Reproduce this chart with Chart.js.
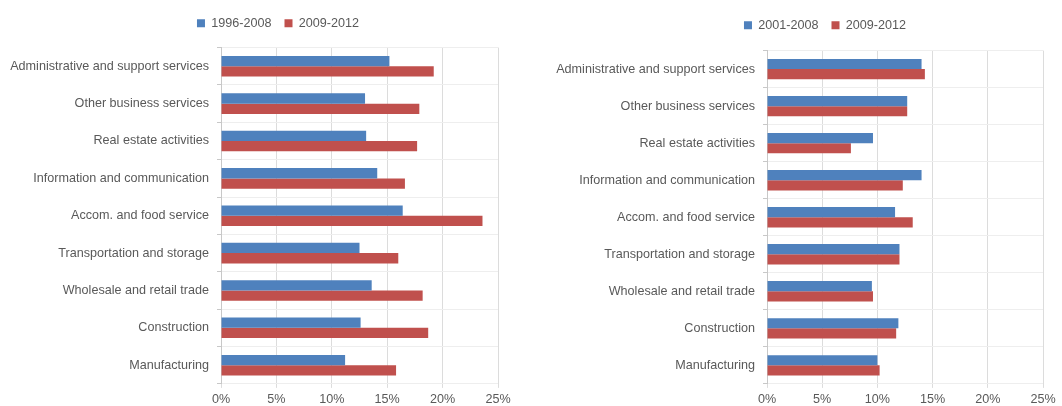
<!DOCTYPE html>
<html>
<head>
<meta charset="utf-8">
<script src="https://cdn.jsdelivr.net/npm/chart.js@4"></script>
<style>
  html, body { margin: 0; padding: 0; background: #fff; overflow: hidden; }
  body { width: 1062px; height: 406px; position: relative; }
  .box { position: absolute; top: 0; height: 411px; }
  #left { left: 0; width: 530px; }
  #right { left: 530px; width: 560px; }
</style>
</head>
<body>
<div class="box" id="left"><canvas id="chartLeft"></canvas></div>
<div class="box" id="right"><canvas id="chartRight"></canvas></div>
<script>
const sectors = [
  "Administrative and support services",
  "Other business services",
  "Real estate activities",
  "Information and communication",
  "Accom. and food service",
  "Transportation and storage",
  "Wholesale and retail trade",
  "Construction",
  "Manufacturing"
];
const x_ticks = ["0%", "5%", "10%", "15%", "20%", "25%"];

// left panel
const left_label_a = "1996-2008";
const left_label_b = "2009-2012";
const left_a = [15.2, 13.0, 13.1, 14.1, 16.4, 12.5, 13.6, 12.6, 11.2];
const left_b = [19.2, 17.9, 17.7, 16.6, 23.6, 16.0, 18.2, 18.7, 15.8];

// right panel
const right_label_a = "2001-2008";
const right_label_b = "2009-2012";
const right_a = [14.0, 12.7, 9.6, 14.0, 11.6, 12.0, 9.5, 11.9, 10.0];
const right_b = [14.3, 12.7, 7.6, 12.3, 13.2, 12.0, 9.6, 11.7, 10.2];

const blue = '#4f81bd';
const red = '#c0504d';
const text_color = '#595959';

Chart.defaults.font.family = "'Liberation Sans', Arial, sans-serif";
Chart.defaults.font.size = 12.6;
Chart.defaults.color = text_color;

// legend: extra space under it and a horizontal shift to its centre
function legend_tweak(extra_height, centre_x)
{
    return {
        id: 'legendTweak',
        beforeInit(chart) {
            const fit = chart.legend.fit;
            chart.legend.fit = function () {
                fit.bind(chart.legend)();
                this.height += extra_height;
            };
        },
        afterLayout(chart) {
            const lg = chart.legend;
            const dx = centre_x - (lg.left + lg.right) / 2;
            lg.left += dx;
            lg.right += dx;
        }
    };
}

function make_chart(canvas_id, label_a, data_a, label_b, data_b, axis_width, pad, extra_height, centre_x)
{
    return new Chart(document.getElementById(canvas_id), {
        type: 'bar',
        data: {
            labels: sectors,
            datasets: [
                { label: label_a, data: data_a, backgroundColor: blue },
                { label: label_b, data: data_b, backgroundColor: red }
            ]
        },
        options: {
            indexAxis: 'y',
            responsive: true,
            maintainAspectRatio: false,
            animation: false,
            datasets: { bar: { barPercentage: 1.0, categoryPercentage: 0.55 } },
            layout: { padding: pad },
            plugins: {
                tooltip: { enabled: false },
                legend: {
                    position: 'top',
                    labels: { boxWidth: 8, boxHeight: 8, padding: 13, color: text_color, font: { size: 12.6 } }
                }
            },
            scales: {
                x: {
                    min: 0,
                    max: 25,
                    ticks: {
                        stepSize: 5,
                        padding: 4,
                        color: text_color,
                        callback: (v, i) => x_ticks[i]
                    },
                    grid: { color: '#dcdcdc', tickLength: 4, tickColor: '#dcdcdc' },
                    border: { display: false }
                },
                y: {
                    ticks: { padding: 8, color: text_color, autoSkip: false },
                    grid: { color: '#eeeeee', tickLength: 4, tickColor: '#c8c8c8' },
                    border: { color: '#c8c8c8' },
                    afterFit: (scale) => { scale.width = axis_width; }
                }
            }
        },
        plugins: [legend_tweak(extra_height, centre_x)]
    });
}

make_chart('chartLeft', left_label_a, left_a, left_label_b, left_b, 221,
    { top: 4, right: 32, bottom: 0, left: 0 }, 8, 278);
make_chart('chartRight', right_label_a, right_a, right_label_b, right_b, 237,
    { top: 6, right: 47, bottom: 0, left: 0 }, 9, 295);
</script>
</body>
</html>
